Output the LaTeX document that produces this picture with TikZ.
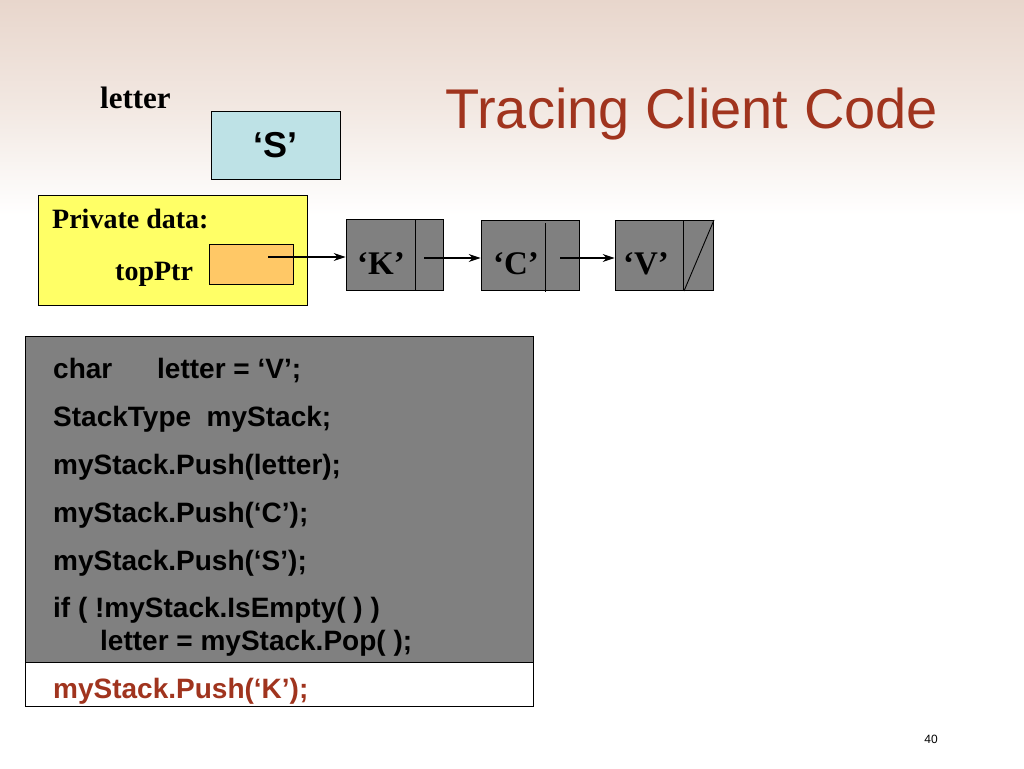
\documentclass[tikz,border=0pt]{standalone}
\usepackage{fontspec}
\setmainfont{Liberation Serif}
\setsansfont{Liberation Sans}
\usetikzlibrary{arrows.meta}
\definecolor{titlered}{RGB}{160,52,30}
\definecolor{sblue}{RGB}{190,226,230}
\definecolor{pyellow}{RGB}{255,255,102}
\definecolor{porange}{RGB}{255,200,102}
\definecolor{ngray}{RGB}{128,128,128}
\definecolor{bgtop}{RGB}{232,214,204}
\definecolor{bgmid}{RGB}{242,232,226}
\tikzset{
  frame/.style={draw=black, line width=0.8pt},
  serifb/.style={font=\fontsize{28}{30}\selectfont\bfseries\rmfamily, inner sep=0pt},
  codef/.style={font=\fontsize{28}{30}\selectfont\bfseries\sffamily, inner sep=0pt, anchor=base west},
  ptr/.style={line width=1.1pt, -{Stealth[length=12pt,width=8pt]}},
}
\begin{document}
\begin{tikzpicture}[x=1pt,y=-1pt]
\useasboundingbox (0,0) rectangle (1024,768);
% background fade
\shade[top color=bgtop, bottom color=white, middle color=bgmid] (0,0) rectangle (1024,215);
% title
\node[font=\fontsize{56}{60}\selectfont\sffamily, text=titlered, anchor=base west, inner sep=0pt] (title) at (445,128) {Tracing Client Code};
% letter variable
\node[font=\fontsize{31}{33}\selectfont\bfseries\rmfamily, anchor=base west, inner sep=0pt] (letterlbl) at (100,108) {letter};
\node[frame, fill=sblue, minimum width=129pt, minimum height=68pt, inner sep=0pt, font=\fontsize{36}{38}\selectfont\bfseries\sffamily] (S) at (275.5,145) {`S'};
% private data box
\node[frame, fill=pyellow, minimum width=269pt, minimum height=110pt] (priv) at (172.5,250) {};
\node[serifb, anchor=base west] (pd) at (52,228) {Private data:};
\node[serifb, anchor=base west] (tp) at (115,280) {topPtr};
\node[frame, fill=porange, minimum width=84pt, minimum height=40pt] (top) at (251,264) {};
\coordinate (topc) at (268,257);
% list nodes
\node[frame, fill=ngray, minimum width=97pt, minimum height=71pt] (K) at (394.5,254.5) {};
\node[frame, fill=ngray, minimum width=98pt, minimum height=70pt] (C) at (530,255) {};
\node[frame, fill=ngray, minimum width=98pt, minimum height=70pt] (V) at (664,255) {};
\draw[line width=0.8pt] (415,219) -- (415,290);
\draw[line width=0.8pt] (545,223) -- (545,292);
\draw[line width=0.8pt] (683,220) -- (683,290);
\draw[line width=0.9pt] (684,291) -- (714,220);
\node[serifb, font=\fontsize{33}{35}\selectfont\bfseries\rmfamily] (Kt) at (381,264) {`K'};
\node[serifb, font=\fontsize{33}{35}\selectfont\bfseries\rmfamily] (Ct) at (516,264) {`C'};
\node[serifb, font=\fontsize{33}{35}\selectfont\bfseries\rmfamily] (Vt) at (646,264) {`V'};
\coordinate (Kp) at (424,258);
\coordinate (Cp) at (560,258);
\draw[ptr] (topc) -- (K.west |- topc);
\draw[ptr] (Kp) -- (C.west |- Kp);
\draw[ptr] (Cp) -- (V.west |- Cp);
% code box
\node[frame, fill=ngray, minimum width=508pt, minimum height=326pt, anchor=north west] (code) at (25,336) {};
\node[frame, fill=white, minimum width=508pt, minimum height=44pt, anchor=north west] (cur) at (25,662) {};
\node[codef] (l1) at (53,378) {char};
\node[codef] (l1b) at (157,378) {letter = `V';};
\node[codef] (l2) at (53,426) {StackType\ \ myStack;};
\node[codef] (l3) at (53,474) {myStack.Push(letter);};
\node[codef] (l4) at (53,522) {myStack.Push(`C');};
\node[codef] (l5) at (53,570) {myStack.Push(`S');};
\node[codef] (l6) at (53,617) {if ( !myStack.IsEmpty( ) )};
\node[codef] (l7) at (100,650) {letter = myStack.Pop( );};
\node[codef, text=titlered] (l8) at (53,698) {myStack.Push(`K');};
% page number
\node[font=\fontsize{12}{14}\selectfont\sffamily, anchor=base east, inner sep=0pt] (pg) at (938,743) {40};
\end{tikzpicture}
\end{document}
